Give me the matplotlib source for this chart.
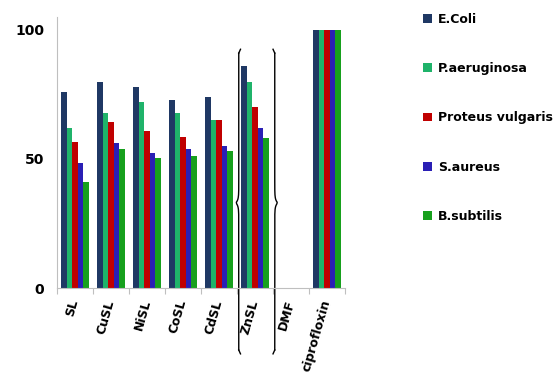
import numpy as np
import matplotlib.pyplot as plt

# datos
compuestos = ['SL', 'CuSL', 'NiSL', 'CoSL', 'CdSL', 'ZnSL', 'DMF', 'ciprofloxin']
e_coli = [76, 80, 78, 73, 74, 86, 0, 100]
p_aeruginosa = [62, 68, 72, 68, 65, 80, 0, 100]
proteus = [56.5, 64.5, 61, 58.5, 65, 70, 0, 100]
s_aureus = [48.5, 56, 52.5, 54, 55, 62, 0, 100]
b_subtilis = [41, 54, 50.5, 51, 53, 58, 0, 100]

series = [
    ('E.Coli', e_coli, '#1f3864'),
    ('P.aeruginosa', p_aeruginosa, '#1fb36a'),
    ('Proteus vulgaris', proteus, '#c00000'),
    ('S.aureus', s_aureus, '#2a1fb5'),
    ('B.subtilis', b_subtilis, '#17a01d'),
]
yticks = [0, 50, 100]

fig = plt.figure(figsize=(5.57, 3.78), dpi=100)
ax = fig.add_axes([0.1023, 0.238, 0.517, 0.717])

x = np.arange(len(compuestos))
ancho = 0.156
for i, (nombre, valores, color) in enumerate(series):
    ax.bar(x + (i - 2) * ancho, valores, ancho, color=color, label=nombre)

ax.set_xlim(-0.5, len(compuestos) - 0.5)
ax.set_ylim(0, 105)
ax.set_yticks(yticks)
ax.set_yticklabels([str(v) for v in yticks], fontsize=10, fontweight='bold')
ax.tick_params(axis='y', length=0, pad=9)

# separadores de categorias en el eje x
ax.set_xticks(np.arange(-0.5, len(compuestos)), minor=False)
ax.set_xticklabels([])
ax.tick_params(axis='x', length=4, color='#bfbfbf', direction='out')
for xi, etiqueta in zip(x, compuestos):
    ax.text(xi - 0.18, -4, etiqueta, rotation=74, ha='right', va='top',
            rotation_mode='anchor', fontsize=9, fontweight='bold',
            transform=ax.transData, clip_on=False)

for lado in ['top', 'right']:
    ax.spines[lado].set_visible(False)
ax.spines['left'].set_color('#bfbfbf')
ax.spines['bottom'].set_color('#bfbfbf')

# llaves alrededor de ZnSL
def llave(xc, punta, y0, y1, ym):
    ys = np.linspace(y0, y1, 200)
    xs = []
    for yy in ys:
        d = abs(yy - ym)
        xs.append(xc + punta * np.exp(-d / 1.2))
    ax.plot(xs, ys, color='black', lw=1.0, clip_on=False)
    for yy in [y0, y1]:
        s = 1 if yy == y1 else -1
        ax.plot([xc, xc - punta * 0.6], [yy, yy + s * 1.5], color='black',
                lw=1.0, clip_on=False)

llave(4.55, -0.08, -24, 91, 33)
llave(5.55, 0.08, -24, 91, 33)

leg = fig.legend(loc='upper left', bbox_to_anchor=(0.739, 0.996), frameon=False,
                 prop={'size': 9, 'weight': 'bold'}, labelspacing=2.9,
                 handlelength=0.7, handleheight=0.7, handletextpad=0.5)

plt.savefig('out.png', dpi=100)
plt.close()
